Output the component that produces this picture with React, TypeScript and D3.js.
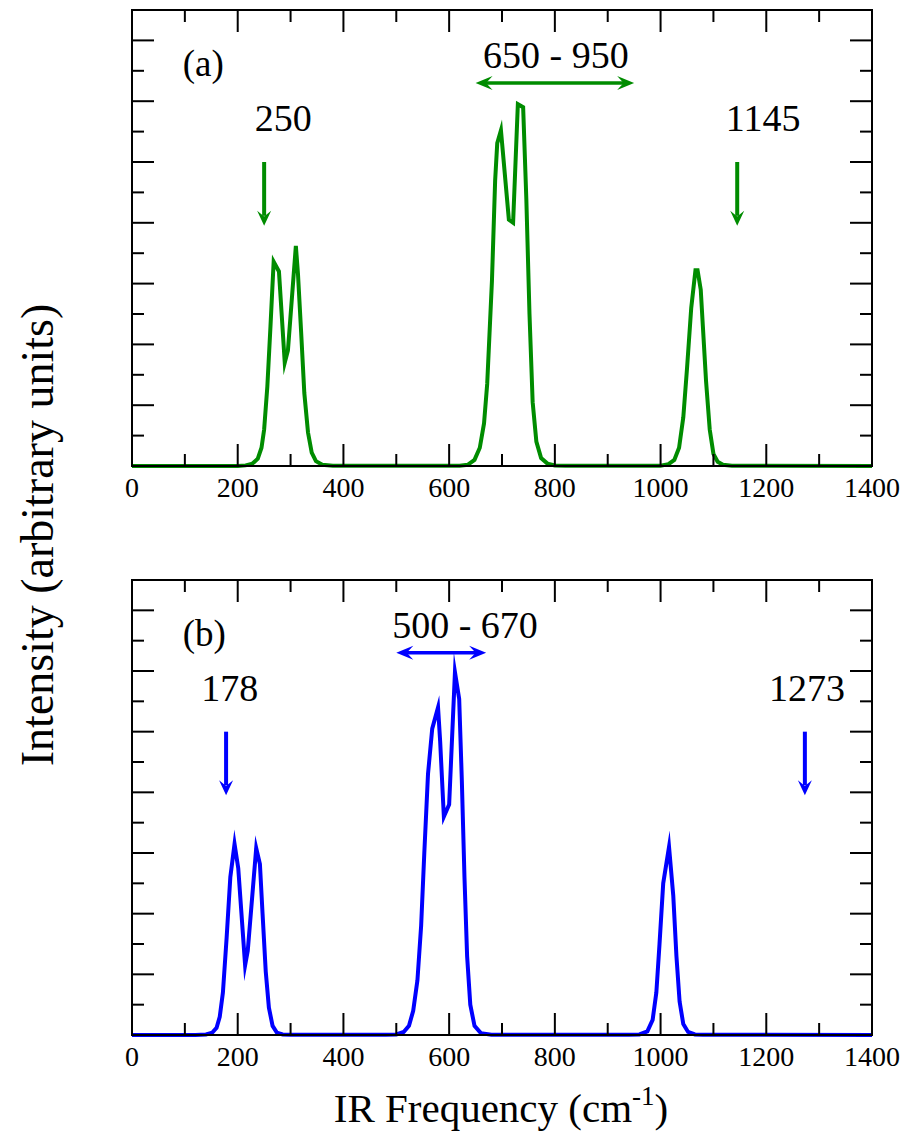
import React from "react";
import * as d3 from "d3";

// Spectrum (a): frequency (cm^-1) and intensity (arb. units)
const freqA = [0, 200, 215, 228, 238, 245, 250, 256, 262, 268, 278, 289, 295, 310, 314, 320, 326, 333, 340, 348, 360, 380,
  620, 635, 648, 658, 666, 672, 681, 687, 691, 698, 713, 721, 730, 740, 746, 752, 758, 765, 774, 786, 800, 820,
  1000, 1015, 1026, 1035, 1043, 1050, 1058, 1066, 1070, 1076, 1080, 1086, 1093, 1100, 1108, 1118, 1135, 1400];
const intA = [0, 0, 0.01, 0.04, 0.12, 0.3, 0.6, 1.3, 2.3, 3.36, 3.2, 1.7, 1.9, 3.62, 3.16, 2.2, 1.2, 0.55, 0.22, 0.08, 0.02, 0.005,
  0.005, 0.02, 0.1, 0.3, 0.7, 1.35, 3.05, 4.69, 5.31, 5.52, 4.05, 4.0, 5.95, 5.9, 4.4, 2.5, 1.05, 0.4, 0.13, 0.04, 0.01, 0.005,
  0.005, 0.03, 0.1, 0.3, 0.8, 1.6, 2.6, 3.22, 3.22, 2.9, 2.3, 1.4, 0.6, 0.2, 0.07, 0.02, 0.005, 0];

// Spectrum (b)
const freqB = [0, 120, 140, 152, 160, 166, 172, 179, 186, 194, 201, 214, 219, 235, 242, 247, 253, 259, 266, 274, 285, 300,
  480, 500, 514, 524, 532, 540, 547, 553, 560, 568, 579, 583, 590, 600, 611, 619, 624, 629, 634, 640, 648, 660, 680,
  940, 960, 975, 985, 992, 998, 1005, 1016, 1024, 1030, 1036, 1043, 1052, 1065, 1080, 1400];
const intB = [0, 0, 0.01, 0.04, 0.12, 0.3, 0.7, 1.6, 2.6, 3.15, 2.75, 1.15, 1.39, 3.08, 2.82, 2.0, 1.05, 0.45, 0.15, 0.04, 0.01, 0.005,
  0.005, 0.01, 0.05, 0.15, 0.4, 0.9, 1.8, 3.0, 4.3, 5.05, 5.4, 4.84, 3.6, 3.8, 5.98, 5.54, 4.2, 2.6, 1.3, 0.5, 0.15, 0.03, 0.005,
  0.005, 0.01, 0.06, 0.25, 0.7, 1.5, 2.5, 3.1, 2.3, 1.3, 0.55, 0.18, 0.05, 0.01, 0.005, 0];

// Marked single modes and band ranges
const singleA = [250, 1145];
const rangeA = [650, 950];
const singleB = [178, 1273];
const rangeB = [500, 670];

const xTicks = [0, 200, 400, 600, 800, 1000, 1200, 1400];

const W = 911;
const H = 1135;
const LEFT = 132;
const RIGHT = 872;
const FONT = "Liberation Serif, DejaVu Serif, serif";
const tf = (size: number): React.CSSProperties => ({ fontFamily: FONT, fontSize: size });

type Panel = {
  tag: string;
  top: number;
  bottom: number;
  freq: number[];
  inten: number[];
  color: string;
  singles: number[];
  singleLabelX: number[];
  range: number[];
  rangeLabelX: number;
};

const panels: Panel[] = [
  { tag: "(a)", top: 10, bottom: 466, freq: freqA, inten: intA, color: "#008c00",
    singles: singleA, singleLabelX: [286, 1194], range: rangeA, rangeLabelX: 802 },
  { tag: "(b)", top: 580, bottom: 1035, freq: freqB, inten: intB, color: "#0000ff",
    singles: singleB, singleLabelX: [185, 1277], range: rangeB, rangeLabelX: 630 },
];

const x = d3.scaleLinear().domain([0, 1400]).range([LEFT, RIGHT]);

function headPath(tx: number, ty: number, angle: number, L: number, Wd: number) {
  // barbed arrow head pointing along angle (radians), tip at (tx,ty)
  const pts = [
    [0, 0],
    [-L, -Wd],
    [-L * 0.62, 0],
    [-L, Wd],
  ].map(([a, b]) => [
    tx + a * Math.cos(angle) - b * Math.sin(angle),
    ty + a * Math.sin(angle) + b * Math.cos(angle),
  ]);
  return "M" + pts.map((p) => p.join(",")).join("L") + "Z";
}

function PanelView({ p }: { p: Panel }) {
  const y = d3.scaleLinear().domain([0, 7.5]).range([p.bottom, p.top]);
  const line = d3
    .line<number>()
    .x((_, i) => x(p.freq[i]))
    .y((d) => y(d));
  const xMinor = d3.range(0, 1401, 100);
  const yMinor = d3.range(0, 7.51, 0.5);
  const tickEls: React.ReactNode[] = [];
  xMinor.forEach((v, i) => {
    const len = v % 200 === 0 ? 22 : 12;
    const xx = x(v);
    if (v === 0 || v === 1400) return;
    tickEls.push(<line key={"xb" + i} x1={xx} x2={xx} y1={p.bottom} y2={p.bottom - len} />);
    tickEls.push(<line key={"xt" + i} x1={xx} x2={xx} y1={p.top} y2={p.top + len} />);
  });
  yMinor.forEach((v, i) => {
    if (v === 0 || v === 7.5) return;
    const len = Math.abs(v - Math.round(v)) < 1e-6 ? 22 : 12;
    const yy = y(v);
    tickEls.push(<line key={"yl" + i} x1={LEFT} x2={LEFT + len} y1={yy} y2={yy} />);
    tickEls.push(<line key={"yr" + i} x1={RIGHT} x2={RIGHT - len} y1={yy} y2={yy} />);
  });

  const rx0 = x(p.range[0]);
  const rx1 = x(p.range[1]);
  const ry = y(6.3);
  return (
    <g>
      <path d={line(p.inten) || ""} fill="none" stroke={p.color} strokeWidth={4}
        strokeLinejoin="miter" strokeMiterlimit={10} />
      <g stroke="#000" strokeWidth={2}>{tickEls}</g>
      <rect x={LEFT} y={p.top} width={RIGHT - LEFT} height={p.bottom - p.top}
        fill="none" stroke="#000" strokeWidth={2} />
      {xTicks.map((v) => (
        <text key={v} x={x(v)} y={p.bottom + 31} textAnchor="middle" style={tf(28)}>{v}</text>
      ))}
      <text x={x(96)} y={y(6.42)} style={tf(37)}>{p.tag}</text>
      {p.singles.map((s, i) => (
        <g key={s}>
          <text x={x(p.singleLabelX[i])} y={y(5.51)} textAnchor="middle" style={tf(38)}>{s}</text>
          <line x1={x(s)} x2={x(s)} y1={y(5.0)} y2={y(3.95) - 10} stroke={p.color} strokeWidth={4} />
          <path d={headPath(x(s), y(3.95), Math.PI / 2, 15, 7)} fill={p.color} />
        </g>
      ))}
      <text x={x(p.rangeLabelX)} y={y(6.55)} textAnchor="middle" style={tf(38)}>
        {`${p.range[0]} - ${p.range[1]}`}
      </text>
      <line x1={rx0 + 10} x2={rx1 - 10} y1={ry} y2={ry} stroke={p.color} strokeWidth={3.5} />
      <path d={headPath(rx0, ry, Math.PI, 17, 7)} fill={p.color} />
      <path d={headPath(rx1, ry, 0, 17, 7)} fill={p.color} />
    </g>
  );
}

export default function App() {
  return (
    <svg width={W} height={H} style={{ position: "absolute", left: 0, top: 0, background: "#fff" }}>
      <rect width={W} height={H} fill="#fff" />
      {panels.map((p) => (
        <PanelView key={p.tag} p={p} />
      ))}
      <text transform="translate(53,535) rotate(-90)" textAnchor="middle" style={tf(46)}>
        Intensity (arbitrary units)
      </text>
      <text x={501} y={1122} textAnchor="middle" style={tf(41)}>
        <tspan>IR Frequency (cm</tspan>
        <tspan dy={-17} style={{ fontSize: 27 }}>-1</tspan>
        <tspan dy={17}>)</tspan>
      </text>
    </svg>
  );
}
